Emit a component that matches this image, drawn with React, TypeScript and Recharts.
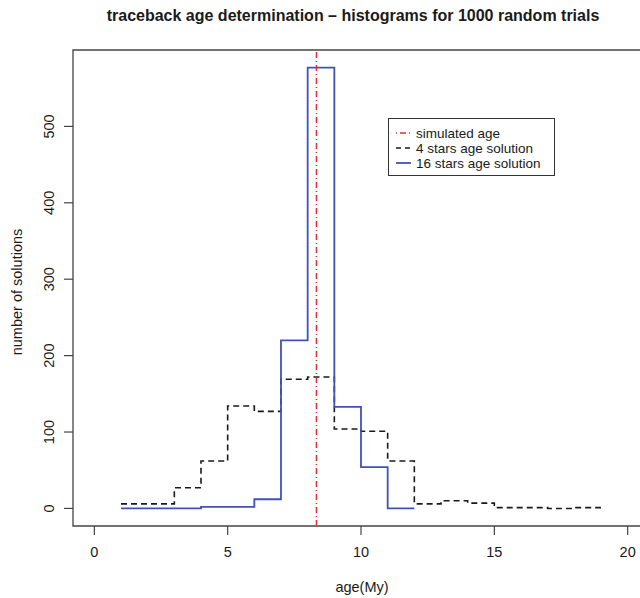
import React from "react";
import {
  ComposedChart,
  Line,
  XAxis,
  YAxis,
  ReferenceLine,
  ReferenceArea,
} from "recharts";

// histogram bin counts (bin width 1)
const blueStart = 1;
const blueCounts = [0, 0, 0, 2, 2, 12, 220, 577, 133, 54, 0]; // 16 stars, bins 1..12
const dashStart = 1;
const dashCounts = [6, 6, 27, 62, 134, 127, 169, 172, 104, 101, 62, 6, 10, 7, 1, 1, 0, 1]; // 4 stars, bins 1..19
const simulatedAge = 8.33;
const xTicks = [0, 5, 10, 15, 20];
const yTicks = [0, 100, 200, 300, 400, 500];
const legendLabels = ["simulated age", "4 stars age solution", "16 stars age solution"];
const titleText = "traceback age determination \u2013 histograms for 1000 random trials";
const xLabel = "age(My)";
const yLabel = "number of solutions";

const toSteps = (start: number, counts: number[]) => {
  const pts = counts.map((c, i) => ({ x: start + i, y: c }));
  pts.push({ x: start + counts.length, y: counts[counts.length - 1] });
  return pts;
};

const blueData = toSteps(blueStart, blueCounts);
const dashData = toSteps(dashStart, dashCounts);

const FONT = "'Liberation Sans', Arial, Helvetica, sans-serif";
const FS = 14.5;
const BLUE = "#4152b6";
const RED = "#e0302f";
const INK = "#1a1a1a";

const YTick = (props: any) => {
  const { y, payload } = props;
  return (
    <text
      x={49}
      y={y}
      transform={`rotate(-90, 49, ${y})`}
      textAnchor="middle"
      dominantBaseline="central"
      fontSize={FS}
      fontFamily={FONT}
      fill={INK}
    >
      {payload.value}
    </text>
  );
};

const ROW = 15;
const LegendBox = () => (
  <div
    style={{
      position: "absolute",
      left: 388,
      top: 118,
      width: 167,
      height: 58,
      border: "1px solid #333",
      background: "#fff",
      boxSizing: "border-box",
      fontFamily: FONT,
      fontSize: 13.5,
      color: INK,
    }}
  >
    <svg width={30} height={56} style={{ position: "absolute", left: 0, top: 0 }}>
      <line x1={7} x2={22} y1={14} y2={14} stroke={RED} strokeWidth={1.5} strokeDasharray="1 3 6 3" />
      <line x1={7} x2={22} y1={14 + ROW} y2={14 + ROW} stroke={INK} strokeWidth={1.6} strokeDasharray="5 4" />
      <line x1={7} x2={22} y1={14 + 2 * ROW} y2={14 + 2 * ROW} stroke={BLUE} strokeWidth={1.8} />
    </svg>
    {legendLabels.map((l, i) => (
      <div
        key={l}
        style={{
          position: "absolute",
          left: 27,
          top: 14 + i * ROW - 7.5,
          height: ROW,
          lineHeight: `${ROW}px`,
          whiteSpace: "nowrap",
        }}
      >
        {l}
      </div>
    ))}
  </div>
);

export default function App() {
  return (
    <div
      style={{
        position: "fixed",
        left: 0,
        top: 0,
        width: 640,
        height: 598,
        overflow: "hidden",
        background: "#fff",
        fontFamily: FONT,
      }}
    >
      <ComposedChart
        width={700}
        height={598}
        margin={{ top: 50, right: 51, bottom: 0, left: 0 }}
        style={{ position: "absolute", left: 0, top: 0 }}
      >
        <XAxis
          dataKey="x"
          type="number"
          domain={[-0.8, 20.8]}
          allowDataOverflow
          ticks={xTicks}
          interval={0}
          axisLine={false}
          tickSize={9}
          tickMargin={12}
          height={72}
          tickLine={{ stroke: "#444", strokeWidth: 1.2 }}
          tick={{ fontSize: FS, fontFamily: FONT, fill: INK }}
        />
        <YAxis
          type="number"
          domain={[-23, 600]}
          allowDataOverflow
          ticks={yTicks}
          interval={0}
          axisLine={false}
          tickSize={9}
          width={73}
          tickLine={{ stroke: "#444", strokeWidth: 1.2 }}
          tick={<YTick />}
        />
        <ReferenceArea
          x1={-0.8}
          x2={20.8}
          y1={-23}
          y2={600}
          fill="none"
          fillOpacity={0}
          stroke="#444"
          strokeWidth={1.3}
          ifOverflow="visible"
        />
        <Line
          data={dashData}
          dataKey="y"
          type="stepAfter"
          stroke={INK}
          strokeWidth={1.6}
          strokeDasharray="6 4"
          dot={false}
          activeDot={false}
          isAnimationActive={false}
          legendType="none"
        />
        <Line
          data={blueData}
          dataKey="y"
          type="stepAfter"
          stroke={BLUE}
          strokeWidth={1.8}
          dot={false}
          activeDot={false}
          isAnimationActive={false}
          legendType="none"
        />
        <ReferenceLine
          x={simulatedAge}
          stroke={RED}
          strokeWidth={1.5}
          strokeDasharray="6 3 1 3"
          ifOverflow="visible"
        />
      </ComposedChart>
      <div
        style={{
          position: "absolute",
          left: 0,
          width: 706,
          top: 7,
          textAlign: "center",
          fontWeight: "bold",
          fontSize: 16,
          color: INK,
          whiteSpace: "nowrap",
        }}
      >
        {titleText}
      </div>
      <div
        style={{
          position: "absolute",
          left: 262,
          width: 200,
          top: 579,
          textAlign: "center",
          fontSize: FS,
          color: INK,
        }}
      >
        {xLabel}
      </div>
      <div
        style={{
          position: "absolute",
          left: 17 - 100,
          top: 292 - 8,
          width: 200,
          height: 16,
          lineHeight: "16px",
          textAlign: "center",
          fontSize: FS,
          color: INK,
          transform: "rotate(-90deg)",
          transformOrigin: "50% 50%",
        }}
      >
        {yLabel}
      </div>
      <LegendBox />
    </div>
  );
}
